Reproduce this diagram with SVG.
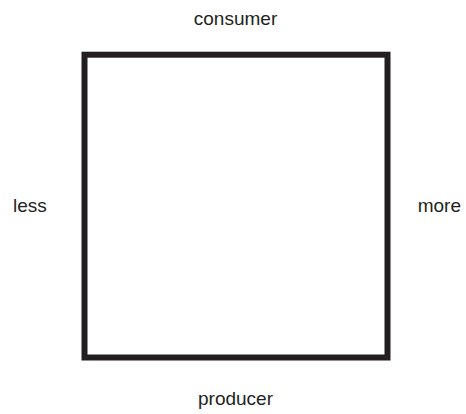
<svg xmlns="http://www.w3.org/2000/svg" width="466" height="414" viewBox="0 0 466 414">
<style>
text{font-family:"Liberation Sans",Arial,sans-serif;font-size:19px;fill:#231f20}
.box{fill:none;stroke:#231f20;stroke-width:6}
</style>
<rect width="466" height="414" fill="#fff"/>
<g id="square"><rect class="box" x="84.5" y="54.7" width="303" height="302.8"/></g>
<g id="labels">
<text x="235.5" y="25" text-anchor="middle">consumer</text>
<text x="13" y="212.3">less</text>
<text x="461" y="212.3" text-anchor="end">more</text>
<text x="235.5" y="405" text-anchor="middle">producer</text>
</g>
</svg>
